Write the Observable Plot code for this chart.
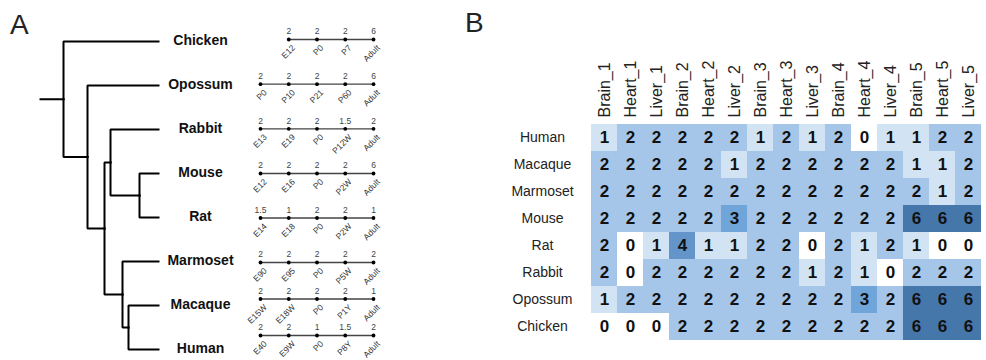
<!DOCTYPE html>
<html>
<head>
<meta charset="utf-8">
<script src="https://cdn.jsdelivr.net/npm/d3@7"></script>
<script src="https://cdn.jsdelivr.net/npm/@observablehq/plot@0.6"></script>
<style>
  body { margin: 0; background: #fff; font-family: "Liberation Sans", Arial, Helvetica, sans-serif; }
  #wrap { position: relative; width: 986px; height: 360px; overflow: hidden; }
  .pane { position: absolute; top: 0; }
  .lab { position: absolute; font-size: 28px; line-height: 28px; color: #222; }
</style>
</head>
<body>
<div id="wrap">
  <div id="tree" class="pane" style="left:0"></div>
  <div id="tl" class="pane" style="left:0"></div>
  <div id="heat" class="pane" style="left:460px"></div>
  <div class="lab" style="left:10px;top:11px">A</div>
  <div class="lab" style="left:465px;top:9px">B</div>
</div>
<script>
// ---------- Panel A: tree ----------
const species = ["Chicken", "Opossum", "Rabbit", "Mouse", "Rat", "Marmoset", "Macaque", "Human"];
const nodeNames = ["Root", "Mammalia", "Euarchontoglires", "Glires", "Rodentia", "Primates", "Catarrhini"];
const nodeChildren = [
  ["Chicken", "Mammalia"],
  ["Opossum", "Euarchontoglires"],
  ["Glires", "Primates"],
  ["Rabbit", "Rodentia"],
  ["Mouse", "Rat"],
  ["Marmoset", "Catarrhini"],
  ["Macaque", "Human"]
];
const nodeDepth = [23, 47, 64, 70, 99, 82, 88];
const leafDepth = 118;
const stemDepth = 0;

// ---------- Panel A: developmental timelines ----------
const timelineStages = [
  ["E12", "P0", "P7", "Adult"],
  ["P0", "P10", "P21", "P60", "Adult"],
  ["E13", "E19", "P0", "P12W", "Adult"],
  ["E12", "E16", "P0", "P2W", "Adult"],
  ["E14", "E18", "P0", "P2W", "Adult"],
  ["E90", "E95", "P0", "P5W", "Adult"],
  ["E15W", "E18W", "P0", "P1Y", "Adult"],
  ["E40", "E9W", "P0", "P8Y", "Adult"]
];
const timelineValues = [
  [2, 2, 2, 6],
  [2, 2, 2, 2, 6],
  [2, 2, 2, 1.5, 2],
  [2, 2, 2, 2, 6],
  [1.5, 1, 2, 2, 1],
  [2, 2, 2, 2, 2],
  [2, 2, 2, 2, 1],
  [2, 2, 1, 1.5, 2]
];

// ---------- Panel B: heatmap ----------
const heatRows = ["Human", "Macaque", "Marmoset", "Mouse", "Rat", "Rabbit", "Opossum", "Chicken"];
const heatCols = ["Brain_1", "Heart_1", "Liver_1", "Brain_2", "Heart_2", "Liver_2", "Brain_3", "Heart_3",
                  "Liver_3", "Brain_4", "Heart_4", "Liver_4", "Brain_5", "Heart_5", "Liver_5"];
const heatHuman    = [1, 2, 2, 2, 2, 2, 1, 2, 1, 2, 0, 1, 1, 2, 2];
const heatMacaque  = [2, 2, 2, 2, 2, 1, 2, 2, 2, 2, 2, 2, 1, 1, 2];
const heatMarmoset = [2, 2, 2, 2, 2, 2, 2, 2, 2, 2, 2, 2, 2, 1, 2];
const heatMouse    = [2, 2, 2, 2, 2, 3, 2, 2, 2, 2, 2, 2, 6, 6, 6];
const heatRat      = [2, 0, 1, 4, 1, 1, 2, 2, 0, 2, 1, 2, 1, 0, 0];
const heatRabbit   = [2, 0, 2, 2, 2, 2, 2, 2, 1, 2, 1, 0, 2, 2, 2];
const heatOpossum  = [1, 2, 2, 2, 2, 2, 2, 2, 2, 2, 3, 2, 6, 6, 6];
const heatChicken  = [0, 0, 0, 2, 2, 2, 2, 2, 2, 2, 2, 2, 6, 6, 6];
const heatLevels = [0, 1, 2, 3, 4, 6];
const heatColors = ["#ffffff", "#d2e3f4", "#a5c6e8", "#6fa5d9", "#6395cb", "#4677aa"];

const FONT = '"Liberation Sans", Arial, Helvetica, sans-serif';

// build tree layout
const pos = {};
species.forEach((s, i) => { pos[s] = {x: leafDepth, y: i}; });
function place(name) {
  if (pos[name]) return pos[name];
  const k = nodeNames.indexOf(name);
  const ys = nodeChildren[k].map(c => place(c).y);
  pos[name] = {x: nodeDepth[k], y: d3.mean(ys)};
  return pos[name];
}
place("Root");
const edges = [{x1: stemDepth, y1: pos.Root.y, x2: pos.Root.x, y2: pos.Root.y}];
nodeNames.forEach((n, k) => {
  nodeChildren[k].forEach(c => {
    edges.push({x1: pos[n].x, y1: pos[n].y, x2: pos[c].x, y2: pos[c].y});
  });
});
const leaves = species.map((s, i) => ({name: s, x: leafDepth, y: i}));

const treePlot = Plot.plot({
  width: 460, height: 360,
  marginTop: 0, marginBottom: 0, marginLeft: 0, marginRight: 0,
  x: {type: "linear", domain: [0, 118], range: [40, 158], axis: null},
  y: {type: "linear", domain: [0, 7], range: [41, 349], axis: null},
  style: {fontFamily: FONT, background: "transparent"},
  marks: [
    Plot.link(edges, {x1: "x1", y1: "y1", x2: "x2", y2: "y2", curve: "step-before",
      stroke: "#000", strokeWidth: 2, strokeLinecap: "square"}),
    Plot.text(leaves, {x: "x", y: "y", text: "name", dx: 42, dy: -1, fontWeight: "bold",
      fontSize: 14, fill: "#111", textAnchor: "middle"})
  ]
});
document.getElementById("tree").appendChild(treePlot);

// timelines
const tl = [];
timelineStages.forEach((stages, r) => {
  const off = 5 - stages.length;
  stages.forEach((st, i) => {
    tl.push({species: species[r], row: r, col: off + i, stage: st, value: timelineValues[r][i]});
  });
});
const tlPlot = Plot.plot({
  width: 460, height: 360,
  marginTop: 0, marginBottom: 0, marginLeft: 0, marginRight: 0,
  x: {type: "linear", domain: [0, 4], range: [260, 373], axis: null},
  y: {type: "linear", domain: [0, 3, 5, 7], range: [39, 173, 262, 335], axis: null},
  style: {fontFamily: FONT, background: "transparent"},
  marks: [
    Plot.line(tl, {x: "col", y: "row", z: "species", stroke: "#444", strokeWidth: 1.3}),
    Plot.dot(tl, {x: "col", y: "row", r: 1.9, fill: "#000", stroke: null}),
    Plot.text(tl, {x: "col", y: "row", text: d => String(d.value), dy: -8, fontSize: 8.5, fill: "#444"}),
    Plot.text(tl, {x: "col", y: "row", text: "stage", rotate: -45, textAnchor: "end",
      dx: 5, dy: 7, fontSize: 8.5, fill: "#333"})
  ]
});
document.getElementById("tl").appendChild(tlPlot);

// heatmap
const heatTable = [heatHuman, heatMacaque, heatMarmoset, heatMouse, heatRat, heatRabbit, heatOpossum, heatChicken];
const heat = [];
heatRows.forEach((r, i) => heatCols.forEach((c, j) => heat.push({row: r, col: c, value: heatTable[i][j]})));

const heatPlot = Plot.plot({
  width: 526, height: 360,
  marginTop: 124, marginBottom: 20, marginLeft: 125, marginRight: 0,
  x: {type: "band", domain: heatCols, padding: 0, axis: null},
  y: {type: "band", domain: heatRows, padding: 0, axis: null},
  color: {type: "ordinal", domain: heatLevels, range: heatColors},
  style: {fontFamily: FONT, background: "transparent"},
  marks: [
    Plot.cell(heat, {x: "col", y: "row", fill: "value", inset: 0, shapeRendering: "crispEdges"}),
    Plot.text(heat, {x: "col", y: "row", text: d => String(d.value), fontWeight: "bold",
      fontSize: 17, fill: "#111"}),
    Plot.axisX({anchor: "top", tickSize: 0, tickRotate: -90, tickPadding: 7, fontSize: 16,
      label: null, fill: "#222"}),
    Plot.axisY({anchor: "left", tickSize: 0, tickPadding: 43, textAnchor: "middle", fontSize: 14,
      label: null, fill: "#222"})
  ]
});
document.getElementById("heat").appendChild(heatPlot);
</script>
</body>
</html>
